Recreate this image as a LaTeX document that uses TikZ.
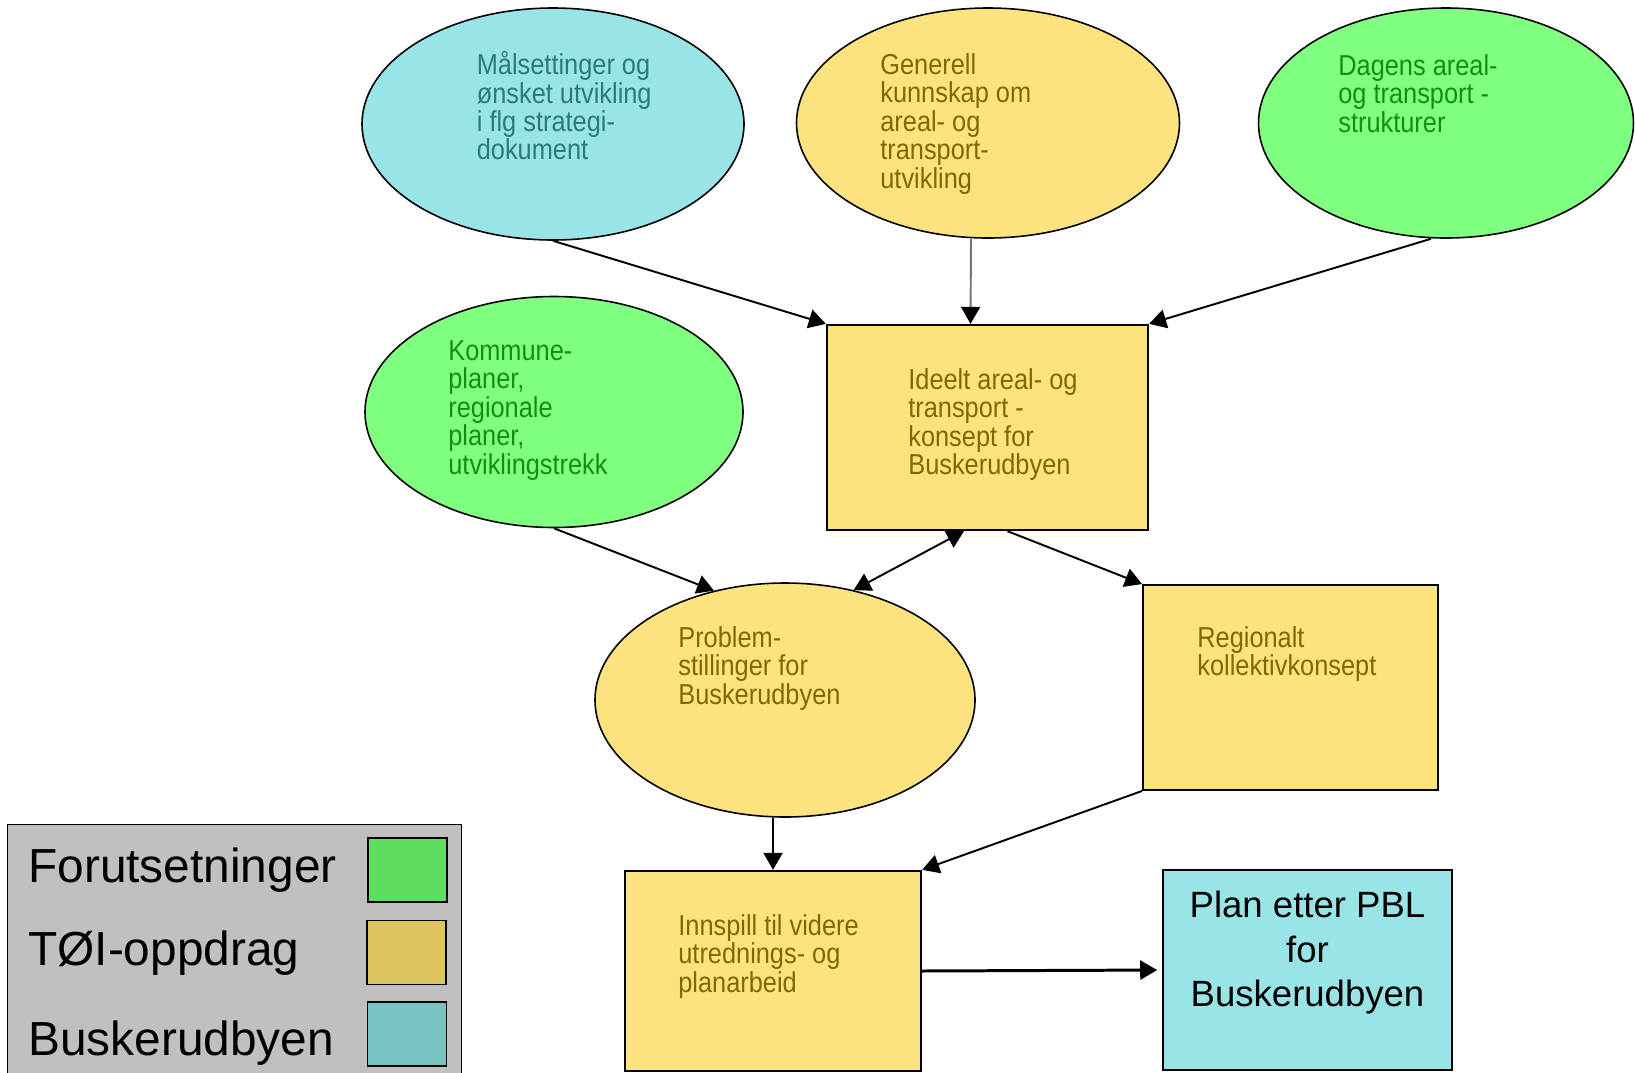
\documentclass[tikz,border=0pt]{standalone}
\usepackage{fontspec}
\setmainfont{Liberation Sans}
\newfontfamily\boxfont[FakeStretch=0.88]{Liberation Sans}
\usetikzlibrary{shapes.geometric, arrows.meta}
\definecolor{goalbg}{HTML}{99E4E6}
\definecolor{goaltext}{HTML}{2A7C7C}
\definecolor{toibg}{HTML}{FDE280}
\definecolor{toitext}{HTML}{806A00}
\definecolor{premisebg}{HTML}{80FF80}
\definecolor{premisetext}{HTML}{10900F}
\definecolor{legendbg}{HTML}{C0C0C0}
\definecolor{legendgreen}{HTML}{60DD60}
\definecolor{legendtan}{HTML}{DEC462}
\definecolor{legendteal}{HTML}{78C4C4}

\begin{document}
\begin{tikzpicture}[
    >={Triangle[length=0.34cm, width=0.38cm, color=black]},
    oval/.style={draw, ellipse, line width=0.9pt, inner sep=0pt},
    box/.style={draw, rectangle, line width=1.3pt, inner sep=0pt},
    txt/.style={anchor=north west, inner sep=0pt, align=left,
        font=\boxfont\fontsize{16.4}{16.2}\selectfont},
    swatch/.style={draw, line width=0.8pt, minimum width=1.58cm, minimum height=1.28cm},
    key/.style={anchor=base west, inner sep=0pt, font=\fontsize{27.2}{32}\selectfont},
    flow/.style={->, line width=1.1pt},
]
\useasboundingbox (0,0) rectangle (32.7,-21.44);

% Top row of ellipses
\node[oval, fill=goalbg, minimum width=7.64cm, minimum height=4.64cm] (maal)
    at (11.06, -2.48) {};
\node[txt, text=goaltext] (maaltxt) at (9.53, -1.02)
    {Målsettinger og\\ønsket utvikling\\i flg strategi-\\dokument};

\node[oval, fill=toibg, minimum width=7.66cm, minimum height=4.6cm] (gen)
    at (19.76, -2.46) {};
\node[txt, text=toitext] (gentxt) at (17.6, -1.06)
    {Generell\\kunnskap om\\areal- og\\transport-\\utvikling};

\node[oval, fill=premisebg, minimum width=7.5cm, minimum height=4.6cm] (dagens)
    at (28.92, -2.46) {};
\node[txt, text=premisetext] (dagenstxt) at (26.76, -1.08)
    {Dagens areal-\\og transport -\\strukturer};

% Second row
\node[oval, fill=premisebg, minimum width=7.56cm, minimum height=4.62cm] (kommune)
    at (11.08, -8.24) {};
\node[txt, text=premisetext] (kommunetxt) at (8.96, -6.8)
    {Kommune-\\planer,\\regionale\\planer,\\utviklingstrekk};

\node[box, fill=toibg, minimum width=6.42cm, minimum height=4.1cm] (ideelt)
    at (19.75, -8.55) {};
\node[txt, text=toitext] (ideelttxt) at (18.16, -7.36)
    {Ideelt areal- og\\transport -\\konsept for\\Buskerudbyen};

% Third row
\node[oval, fill=toibg, minimum width=7.6cm, minimum height=4.68cm] (problem)
    at (15.7, -14.0) {};
\node[txt, text=toitext] (problemtxt) at (13.56, -12.52)
    {Problem-\\stillinger for\\Buskerudbyen};

\node[box, fill=toibg, line width=1.1pt, minimum width=5.9cm, minimum height=4.1cm] (regionalt)
    at (25.81, -13.75) {};
\node[txt, text=toitext] (regionalttxt) at (23.94, -12.52)
    {Regionalt\\kollektivkonsept};

% Bottom row
\node[box, fill=toibg, minimum width=5.92cm, minimum height=4.0cm] (innspill)
    at (15.46, -19.42) {};
\node[txt, text=toitext] (innspilltxt) at (13.56, -18.28)
    {Innspill til videre\\utrednings- og\\planarbeid};

\node[box, fill=goalbg, line width=0.9pt, minimum width=5.78cm, minimum height=4.0cm] (plan)
    at (26.15, -19.4) {};
\node[anchor=north, inner sep=0pt, align=center,
    font=\fontsize{20.8}{25.3}\selectfont] (plantxt) at (26.15, -17.82)
    {Plan etter PBL\\for\\Buskerudbyen};

% Legend
\node[draw, fill=legendbg, line width=0.8pt, anchor=north west,
    minimum width=9.08cm, minimum height=5.4cm] (legend) at (0.14, -16.48) {};
\node[swatch, fill=legendgreen] (keygreen) at (8.15, -17.4) {};
\node[swatch, fill=legendtan] (keytan) at (8.13, -19.05) {};
\node[swatch, fill=legendteal] (keyteal) at (8.14, -20.68) {};
\node[key] (keypremise) at (0.56, -17.64) {Forutsetninger};
\node[key] (keytoi) at (0.56, -19.3) {TØI-oppdrag};
\node[key] (keybusk) at (0.56, -21.1) {Buskerudbyen};

% Arrows into the ideal concept
\draw[flow] (maal.south) -- (ideelt.north west);
\draw[flow, black!55] ([xshift=-0.34cm]gen.south) -- ([xshift=-0.34cm]ideelt.north);
\draw[flow] ([xshift=-0.3cm]dagens.south) -- (ideelt.north east);

% Arrows to the problem statements and the regional concept
\draw[flow] (kommune.south) -- (problem.123);
\draw[<->, line width=1.1pt] ([xshift=-0.47cm]ideelt.south) -- (problem.58);
\draw[flow] ([xshift=0.4cm]ideelt.south) -- (regionalt.north west);

% Arrows to the input box and the plan
\draw[flow] (problem.south -| innspill.north) -- (innspill.north);
\draw[flow] (regionalt.south west) -- (innspill.north east);
\draw[flow, line width=1.7pt, shorten >=0.1cm] (innspill.east) -- (plan.west);

\end{tikzpicture}
\end{document}
